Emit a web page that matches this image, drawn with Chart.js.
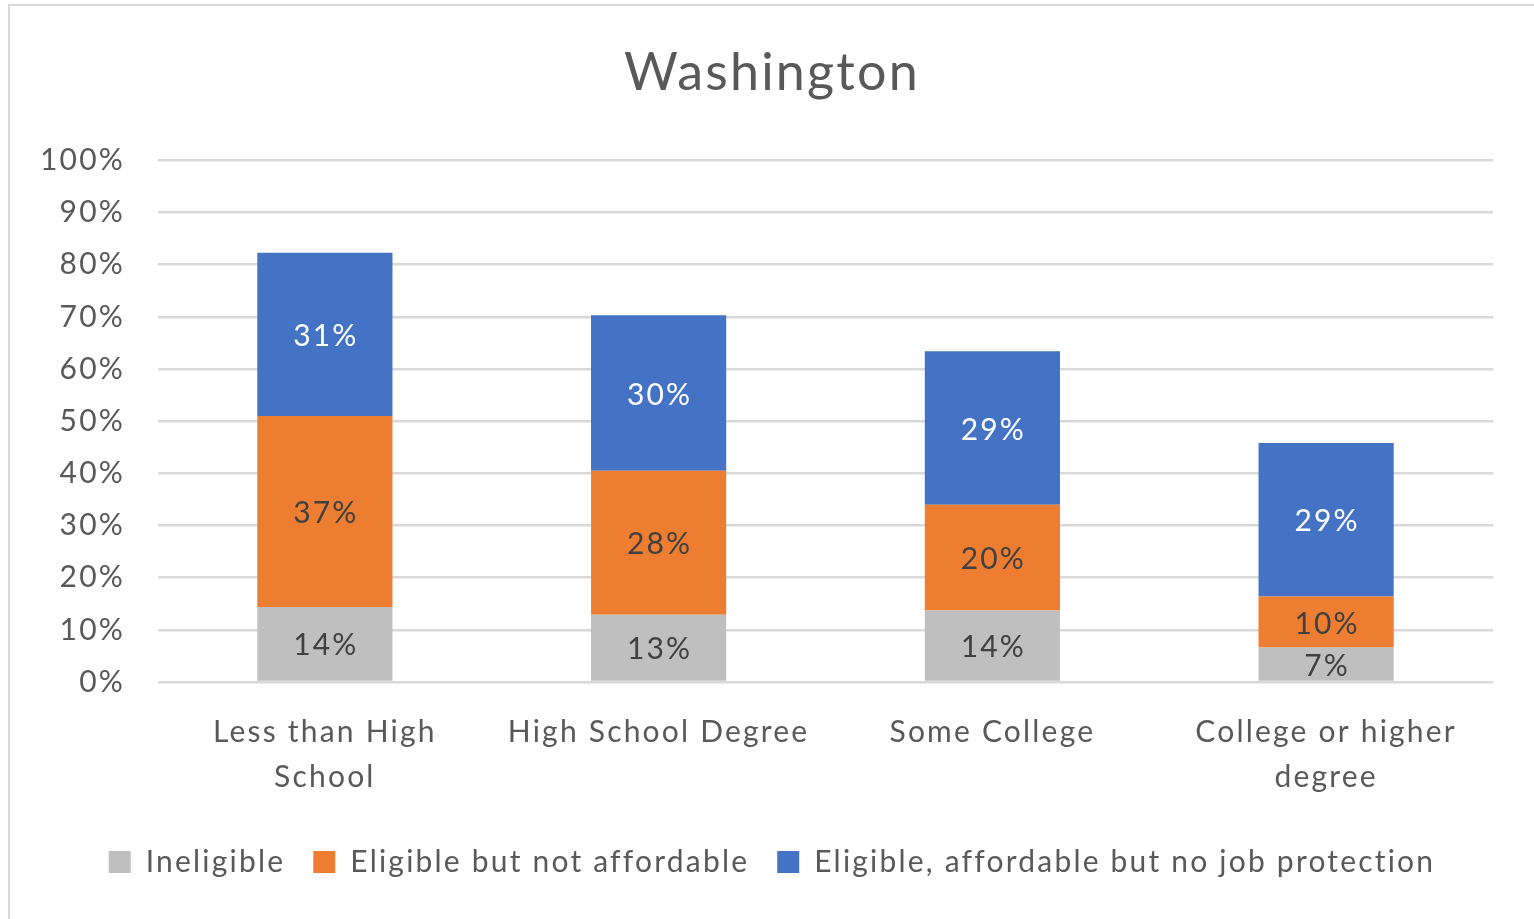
<!DOCTYPE html>
<html>
<head>
<meta charset="utf-8">
<script src="https://cdn.jsdelivr.net/npm/chart.js@4.4.1/dist/chart.umd.min.js"></script>
<style>
  html, body { margin: 0; padding: 0; background: #fff; }
  #frame {
    position: absolute; left: 8px; top: 4px; width: 1526px; height: 915px;
    border-left: 2px solid #D9D9D9; border-top: 2px solid #D9D9D9; box-sizing: border-box;
  }
  #wrap { position: absolute; left: 10px; top: 6px; width: 1524px; height: 913px; }
</style>
</head>
<body>
<div id="frame"></div>
<div id="wrap"><canvas id="c"></canvas></div>
<script>
const chartTitle = 'Washington';
const categories = [['Less than High', 'School'], 'High School Degree', 'Some College', ['College or higher', 'degree']];
const seriesNames = ['Ineligible', 'Eligible but not affordable', 'Eligible, affordable but no job protection'];
const ineligible = [14.4, 12.9, 13.7, 6.6];
const notAffordable = [36.6, 27.6, 20.3, 9.8];
const noJobProtection = [31.3, 29.8, 29.4, 29.4];
const seriesColors = ['#BFBFBF', '#ED7D31', '#4472C4'];
const labelColors = ['#404040', '#404040', '#FFFFFF'];

const FONT = 'Lato';
const TEXT = '#595959';
const SPACING = '2.2px';

const spacingPlugin = {
  id: 'spacing',
  beforeUpdate(chart) { chart.ctx.letterSpacing = SPACING; },
  beforeLayout(chart) { chart.ctx.letterSpacing = SPACING; },
  beforeDraw(chart) { chart.ctx.letterSpacing = SPACING; }
};

const dataLabels = {
  id: 'dataLabels',
  afterDatasetsDraw(chart) {
    const ctx = chart.ctx;
    ctx.save();
    ctx.letterSpacing = SPACING;
    ctx.font = '30px ' + FONT;
    ctx.textAlign = 'center';
    ctx.textBaseline = 'middle';
    chart.data.datasets.forEach((ds, di) => {
      const meta = chart.getDatasetMeta(di);
      meta.data.forEach((bar, i) => {
        const v = ds.data[i];
        const y = (bar.y + bar.base) / 2;
        ctx.fillStyle = labelColors[di];
        ctx.fillText(Math.round(v) + '%', bar.x + 1, y + 2);
      });
    });
    ctx.restore();
  }
};

new Chart(document.getElementById('c'), {
  type: 'bar',
  data: {
    labels: categories,
    datasets: [
      { label: seriesNames[0], data: ineligible, backgroundColor: seriesColors[0], borderWidth: 0 },
      { label: seriesNames[1], data: notAffordable, backgroundColor: seriesColors[1], borderWidth: 0 },
      { label: seriesNames[2], data: noJobProtection, backgroundColor: seriesColors[2], borderWidth: 0 }
    ]
  },
  options: {
    responsive: true,
    maintainAspectRatio: false,
    animation: false,
    layout: { padding: { left: 0, right: 0, top: 0, bottom: 32 } },
    datasets: { bar: { barPercentage: 0.405, categoryPercentage: 1.0 } },
    plugins: {
      title: {
        display: true, text: chartTitle, color: TEXT,
        font: { family: FONT, size: 52, weight: 'normal', lineHeight: 1.2 },
        padding: { top: 36, bottom: 56 }
      },
      legend: {
        position: 'bottom',
        labels: {
          color: TEXT, font: { family: FONT, size: 30 },
          boxWidth: 22, boxHeight: 22, padding: 28
        }
      },
      tooltip: { enabled: false }
    },
    scales: {
      x: {
        stacked: true,
        grid: { display: false, drawTicks: false },
        border: { display: false },
        ticks: { color: TEXT, font: { family: FONT, size: 30, lineHeight: 1.5 }, padding: 28, maxRotation: 0, autoSkip: false },
        afterFit: s => { s.height = 137; }
      },
      y: {
        stacked: true, min: 0, max: 100,
        grid: { color: '#D9D9D9', lineWidth: 2.5, drawTicks: false },
        border: { display: false },
        ticks: { stepSize: 10, color: TEXT, font: { family: FONT, size: 30 }, padding: 33, callback: v => v + '%' },
        afterFit: s => { s.width = 148; }
      },
      yR: {
        position: 'right', display: true,
        grid: { display: false, drawTicks: false },
        border: { display: false },
        ticks: { display: false },
        afterFit: s => { s.width = 41; }
      }
    }
  },
  plugins: [spacingPlugin, dataLabels]
});
</script>
</body>
</html>
